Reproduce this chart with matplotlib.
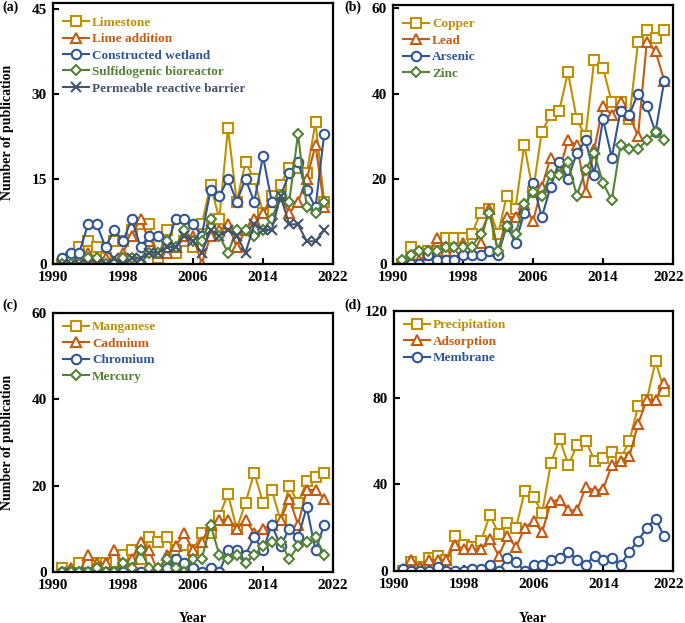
import matplotlib
matplotlib.use('Agg')
import matplotlib.pyplot as plt
import matplotlib.transforms as mtransforms

plt.rcParams['font.family'] = ['Liberation Serif', 'DejaVu Serif']
plt.rcParams['font.weight'] = 'bold'

years = list(range(1991, 2022))

# Panel (a): treatment technologies
limestone = [0, 1, 3, 4, 3, 1, 4, 4, 6, 7, 7, 1, 6, 2, 4, 3, 7, 14, 8, 24, 11, 18, 15, 9, 12, 14, 17, 17, 16, 25, 11]
lime_addition = [0, 0, 1, 2, 1, 1, 0, 2, 5, 8, 4, 2, 2, 3, 5, 5, 0, 5, 6, 7, 3, 6, 8, 9, 11, 12, 9, 11, 15, 21, 10]
constructed_wetland = [1, 2, 2, 7, 7, 3, 6, 4, 8, 3, 5, 5, 3, 8, 8, 7, 5, 13, 12, 15, 11, 15, 11, 19, 11, 12, 16, 18, 13, 10, 23]
sulfidogenic = [0, 0, 0, 1, 1, 0, 0, 1, 1, 0, 2, 2, 4, 3, 6, 4, 4, 8, 5, 2, 6, 6, 5, 6, 8, 12, 11, 23, 10, 9, 11]
prb = [0, 0, 0, 0, 0, 0, 1, 0, 1, 1, 2, 2, 3, 3, 5, 4, 2, 6, 5, 6, 5, 2, 7, 6, 6, 12, 7, 7, 4, 4, 6]

# Panel (b)
copper = [0, 4, 2, 3, 3, 6, 6, 6, 7, 12, 13, 7, 16, 13, 28, 17, 31, 35, 36, 45, 34, 30, 48, 46, 38, 38, 34, 52, 55, 53, 55]
lead = [0, 1, 1, 2, 6, 3, 3, 5, 3, 5, 13, 3, 11, 11, 14, 10, 18, 25, 22, 29, 28, 17, 27, 37, 35, 38, 35, 30, 52, 50, 43]
arsenic = [0, 0, 0, 2, 1, 1, 1, 2, 2, 2, 3, 2, 9, 5, 12, 19, 11, 18, 24, 20, 26, 29, 21, 34, 25, 36, 35, 40, 37, 31, 43]
zinc = [1, 2, 3, 3, 3, 4, 4, 4, 4, 7, 12, 3, 9, 7, 14, 17, 16, 21, 21, 24, 16, 22, 26, 19, 15, 28, 27, 27, 29, 31, 29]

# Panel (c)
manganese = [1, 0, 2, 2, 2, 2, 0, 4, 5, 3, 8, 7, 8, 5, 4, 5, 9, 9, 13, 18, 10, 16, 23, 16, 19, 12, 20, 16, 21, 22, 23]
cadmium = [0, 1, 0, 4, 2, 2, 5, 2, 3, 7, 5, 0, 4, 6, 9, 5, 7, 11, 12, 12, 10, 12, 9, 10, 11, 12, 17, 11, 19, 19, 17]
chromium = [0, 0, 0, 0, 0, 0, 0, 0, 0, 0, 0, 0, 1, 3, 2, 1, 0, 1, 0, 5, 5, 4, 8, 5, 11, 6, 10, 8, 15, 5, 11]
mercury = [0, 0, 0, 0, 1, 0, 0, 2, 1, 5, 1, 1, 3, 1, 0, 3, 3, 11, 4, 3, 4, 2, 4, 6, 7, 7, 3, 6, 7, 8, 4]

# Panel (d)
precipitation = [0, 4, 2, 6, 7, 5, 16, 12, 11, 14, 26, 17, 22, 20, 37, 34, 27, 50, 61, 49, 58, 60, 51, 52, 55, 52, 60, 76, 79, 97, 83]
adsorption = [1, 5, 2, 5, 5, 5, 12, 10, 10, 10, 15, 7, 16, 11, 20, 23, 18, 32, 33, 28, 28, 39, 37, 38, 49, 51, 53, 68, 79, 79, 87]
membrane = [1, 0, 0, 0, 2, 0, 0, 0, 1, 1, 3, 0, 6, 4, 0, 3, 3, 5, 6, 9, 5, 3, 7, 5, 6, 3, 9, 14, 20, 24, 16]

x_ticks = [1990, 1998, 2006, 2014, 2022]

GOLD = '#BF9000'
ORANGE = '#C55A11'
BLUE = '#2F5597'
GREEN = '#548235'
SLATE = '#44546A'

STY = {
    's': dict(color=GOLD, marker='s', ms=6.5),
    '^': dict(color=ORANGE, marker='^', ms=7),
    'o': dict(color=BLUE, marker='o', ms=6.8),
    'D': dict(color=GREEN, marker='D', ms=5.4),
    'x': dict(color=SLATE, marker='x', ms=7),
}

W, H = 685, 623
fig = plt.figure(figsize=(W / 100, H / 100), dpi=100)


def rect(l, t, r, b):
    return [l / W, 1 - b / H, (r - l) / W, (b - t) / H]


def panel(box, series, ymax, yticks, leg_top_px, tag, tagpos, shift_last=False):
    ax = fig.add_axes(rect(*box))
    l, t, r, b = box
    for label, vals, key in series:
        st = STY[key]
        ax.plot(years, vals, color=st['color'], marker=st['marker'], ms=st['ms'],
                mfc='white', mec=st['color'], mew=1.5, lw=1.5, label=label)
    ax.set_xlim(1990, 2022)
    ax.set_ylim(0, ymax)
    ax.set_xticks(x_ticks)
    ax.set_yticks(yticks)
    ax.tick_params(direction='in', length=4, width=1.5, labelsize=11)
    ax.tick_params(axis='x', pad=5)
    ax.tick_params(axis='y', pad=4.5)
    for sp in ax.spines.values():
        sp.set_linewidth(1.6)
        sp.set_color('black')
    if shift_last:
        lab = ax.get_xticklabels()[-1]
        lab.set_transform(lab.get_transform() +
                          mtransforms.ScaledTranslation(-4 / 100, 0, fig.dpi_scale_trans))
    ax.legend(loc='upper left',
              bbox_to_anchor=(10 / (r - l), 1 - leg_top_px / (b - t)),
              frameon=False, borderpad=0, borderaxespad=0,
              handlelength=2.0, handletextpad=0.2, labelspacing=0.32,
              prop={'weight': 'bold', 'size': 9.5}, labelcolor='linecolor')
    fig.text(tagpos[0] / W, 1 - tagpos[1] / H, tag, fontsize=10, fontweight='bold',
             ha='left', va='center')
    return ax


panel((53, 3.5, 333, 264),
      [('Limestone', limestone, 's'), ('Lime addition', lime_addition, '^'),
       ('Constructed wetland', constructed_wetland, 'o'),
       ('Sulfidogenic bioreactor', sulfidogenic, 'D'),
       ('Permeable reactive barrier', prb, 'x')],
      46, [0, 15, 30, 45], 13, '(a)', (2, 7))

panel((393, 5, 673, 264),
      [('Copper', copper, 's'), ('Lead', lead, '^'), ('Arsenic', arsenic, 'o'),
       ('Zinc', zinc, 'D')],
      60.8, [0, 20, 40, 60], 13, '(b)', (344, 7), shift_last=True)

panel((53, 313, 333, 572),
      [('Manganese', manganese, 's'), ('Cadmium', cadmium, '^'),
       ('Chromium', chromium, 'o'), ('Mercury', mercury, 'D')],
      60, [0, 20, 40, 60], 8, '(c)', (2, 305))

panel((394, 311, 673, 571),
      [('Precipitation', precipitation, 's'), ('Adsorption', adsorption, '^'),
       ('Membrane', membrane, 'o')],
      120, [0, 40, 80, 120], 8, '(d)', (344, 305), shift_last=True)

fig.text(8 / W, 1 - 132 / H, 'Number of publication', rotation=90, fontsize=10,
         fontweight='bold', ha='center', va='center')
fig.text(8 / W, 1 - 442 / H, 'Number of publication', rotation=90, fontsize=10,
         fontweight='bold', ha='center', va='center')
fig.text(193 / W, 1 - 618 / H, 'Year', fontsize=10, fontweight='bold', ha='center', va='center')
fig.text(533 / W, 1 - 618 / H, 'Year', fontsize=10, fontweight='bold', ha='center', va='center')

fig.savefig('out.png', dpi=100)
